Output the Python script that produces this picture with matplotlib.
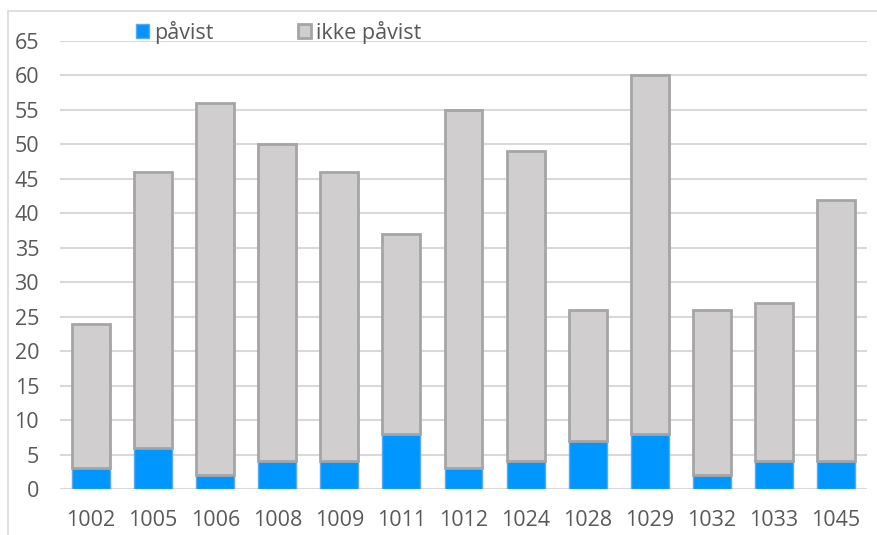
import numpy as np
import matplotlib.pyplot as plt
from matplotlib.patches import Rectangle

# sample ids and counts per sample
samples = ["1002", "1005", "1006", "1008", "1009", "1011", "1012",
           "1024", "1028", "1029", "1032", "1033", "1045"]
pavist = [3, 6, 2, 4, 4, 8, 3, 4, 7, 8, 2, 4, 4]
totals = [24, 46, 56, 50, 46, 37, 55, 49, 26, 60, 26, 27, 42]
ikke_pavist = [t - p for t, p in zip(totals, pavist)]

plt.rcParams['font.family'] = ['Open Sans', 'DejaVu Sans']
txt_color = '#595959'
fsize = 15.5

fig = plt.figure(figsize=(8.77, 5.35), dpi=100)
ax = fig.add_axes([60 / 877, 1 - 489 / 535, 807 / 877, 448 / 535])

# light frame around the chart area
fig.patches.append(Rectangle((8 / 877, -0.1), 1.2, 1 - 11 / 535 + 0.1,
                             transform=fig.transFigure, fill=False,
                             edgecolor='#D9D9D9', linewidth=1.2, zorder=0))

x = np.arange(len(samples))
w = 0.61
ax.bar(x, pavist, w, color='#0096FF', edgecolor='#5AA9EE', linewidth=1.0,
       label='påvist', zorder=3)
ax.bar(x, ikke_pavist, w, bottom=pavist, color='#D0CECE', edgecolor='#A5A5A5',
       linewidth=2.0, label='ikke påvist', zorder=3)

ax.set_xlim(-0.5, len(samples) - 0.5)
ax.set_ylim(0, 65)
ax.set_yticks(np.arange(0, 66, 5))
ax.set_xticks(x)
ax.set_xticklabels(samples)
ax.yaxis.grid(True, color='#D9D9D9', linewidth=1.5, zorder=0)
ax.set_axisbelow(True)
for s in ax.spines.values():
    s.set_visible(False)
ax.tick_params(axis='both', length=0, labelsize=fsize, colors=txt_color)
ax.tick_params(axis='x', pad=15)
ax.tick_params(axis='y', pad=15)

leg = fig.legend(loc='center left', bbox_to_anchor=(136 / 877, 1 - 32 / 535),
                 ncol=2, frameon=False, fontsize=fsize, borderpad=0,
                 borderaxespad=0, handlelength=0.6, handleheight=0.6,
                 handletextpad=0.25, columnspacing=3.9)
for t in leg.get_texts():
    t.set_color(txt_color)

fig.savefig('out.png', dpi=100)
